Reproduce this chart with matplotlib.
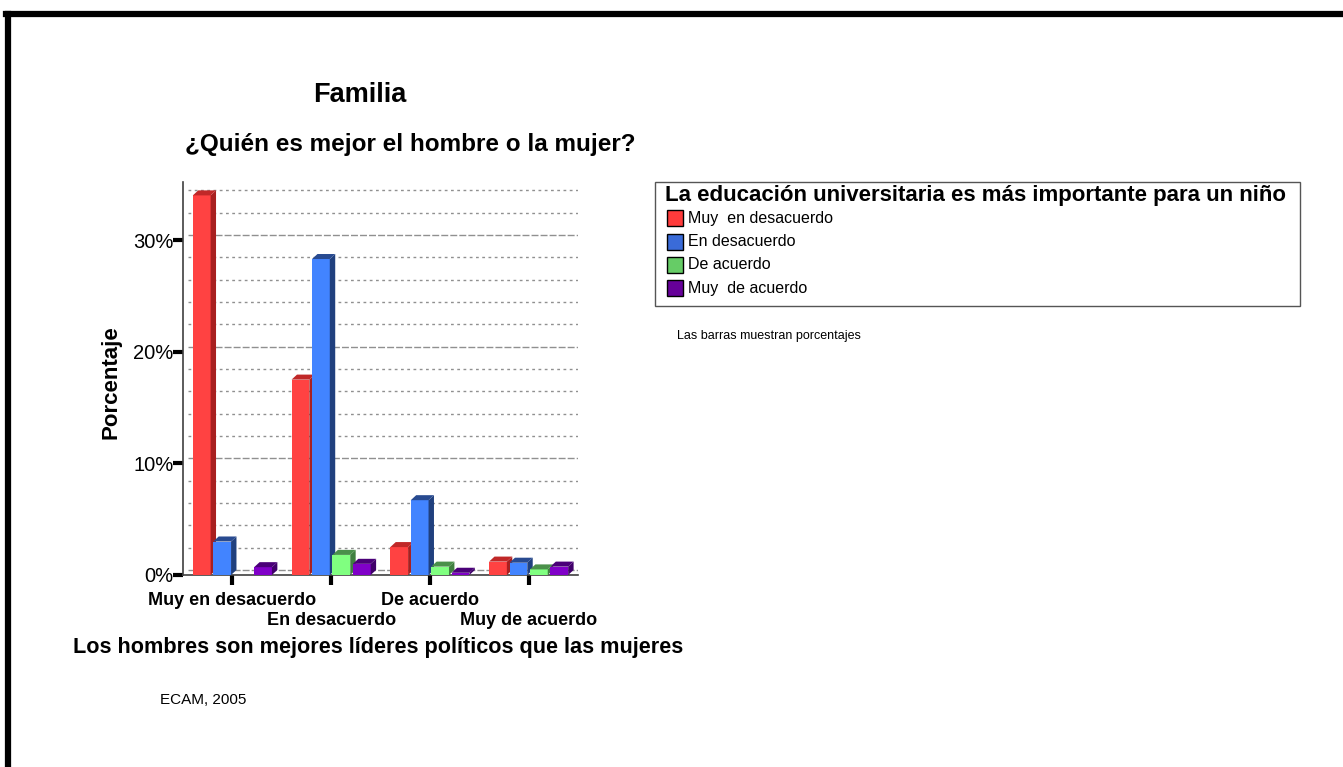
import matplotlib
matplotlib.use('Agg')
import matplotlib.pyplot as plt
from matplotlib.patches import Polygon, Rectangle
from matplotlib.lines import Line2D
import numpy as np

plt.rcParams['font.family'] = ['Liberation Sans', 'DejaVu Sans']

categories = ['Muy en desacuerdo', 'En desacuerdo', 'De acuerdo', 'Muy de acuerdo']
series_names = ['Muy  en desacuerdo', 'En desacuerdo', 'De acuerdo', 'Muy  de acuerdo']
legend_title = 'La educación universitaria es más importante para un niño'

# percentages, one list per legend series (across x categories)
muy_en_desacuerdo = [34.0, 17.5, 2.5, 1.2]
en_desacuerdo = [3.0, 28.3, 6.7, 1.1]
de_acuerdo = [0.0, 1.8, 0.75, 0.5]
muy_de_acuerdo = [0.7, 1.0, 0.2, 0.75]
yticks = [0, 10, 20, 30]
ytick_labels = ['0%', '10%', '20%', '30%']

front = ['#ff4242', '#4284ff', '#80ff80', '#8000c8']
side = ['#a82020', '#20407e', '#408040', '#40006a']
top = ['#c02828', '#284a90', '#4a904a', '#4a0078']
legend_colors = ['#ff3b3b', '#3a6bd8', '#66cc66', '#660099']

W, H = 1343, 767
fig = plt.figure(figsize=(13.43, 7.67), dpi=100)
ax = fig.add_axes([183/W, 1-575/H, 395/W, 393/H])

x = np.arange(len(categories))
width = 0.18
step = 0.207
dx, dy = 0.055, 0.45  # fake 3d depth

# back wall gridlines
for v in np.arange(0, 36, 2):
    if v % 10 == 0:
        ax.plot([-0.5 + dx, 3.5], [v + dy, v + dy], color='#909090', lw=1,
                ls=(0, (5, 1.5)), zorder=1)
    else:
        ax.plot([-0.5 + dx, 3.5], [v + dy, v + dy], color='#909090', lw=1,
                ls=(0, (2, 2.5)), zorder=1)

all_series = [muy_en_desacuerdo, en_desacuerdo, de_acuerdo, muy_de_acuerdo]
for i, vals in enumerate(all_series):
    xs = x + (i - 1.5) * step - width / 2
    for xl, h in zip(xs, vals):
        if h <= 0:
            continue
        ax.bar(xl, h, width=width, align='edge', color=front[i], zorder=3)
        ax.add_patch(Polygon([(xl + width, 0), (xl + width + dx, dy),
                              (xl + width + dx, h + dy), (xl + width, h)],
                             closed=True, facecolor=side[i], edgecolor='none', zorder=3))
        ax.add_patch(Polygon([(xl, h), (xl + dx, h + dy), (xl + width + dx, h + dy),
                              (xl + width, h)],
                             closed=True, facecolor=top[i], edgecolor='none', zorder=3))

ax.set_xlim(-0.5, 3.5)
ax.set_ylim(0, 35.2)
for s in ['top', 'right']:
    ax.spines[s].set_visible(False)
ax.spines['left'].set_color('#404040')
ax.spines['bottom'].set_color('#404040')
ax.spines['left'].set_linewidth(1.2)
ax.spines['bottom'].set_linewidth(1.2)

ax.set_yticks(yticks)
ax.set_yticklabels(ytick_labels, fontsize=14.5)
ax.tick_params(axis='y', length=7, width=3, pad=0)
ax.set_xticks(x)
ax.set_xticklabels([])
ax.tick_params(axis='x', length=7, width=3, pad=2)
for i, c in enumerate(categories):
    ax.text(x[i], -1.5 if i % 2 == 0 else -3.3, c, ha='center', va='top',
            fontsize=13, fontweight='bold')

ax.set_ylabel('Porcentaje', fontsize=16, fontweight='bold')
ax.yaxis.set_label_coords(-0.155, 0.49)

fig.text(360/W, 1-95/H, 'Familia', ha='center', va='center',
         fontsize=19.5, fontweight='bold')
fig.text(410/W, 1-145/H, '¿Quién es mejor el hombre o la mujer?', ha='center',
         va='center', fontsize=17.5, fontweight='bold')
fig.text(378/W, 1-647/H, 'Los hombres son mejores líderes políticos que las mujeres',
         ha='center', va='center', fontsize=15.6, fontweight='bold')
fig.text(160/W, 1-700/H, 'ECAM, 2005', ha='left', va='center', fontsize=11)
fig.text(677/W, 1-336/H, 'Las barras muestran porcentajes', ha='left', va='center',
         fontsize=9)

# legend box drawn by hand to match spacing
fig.add_artist(Rectangle((655/W, 1-306/H), 645/W, 124/H, transform=fig.transFigure,
                         facecolor='white', edgecolor='#555555', lw=1))
fig.text(665/W, 1-196/H, legend_title, ha='left', va='center', fontsize=16,
         fontweight='bold')
row_y = [218, 242, 265, 288]
for c, name, yy in zip(legend_colors, series_names, row_y):
    fig.add_artist(Rectangle((667/W, 1-(yy + 8)/H), 16/W, 16/H, transform=fig.transFigure,
                             facecolor=c, edgecolor='black', lw=1))
    fig.text(688/W, 1-yy/H, name, ha='left', va='center', fontsize=11.5)

# outer frame (only top and left visible)
fig.add_artist(Line2D([8/W, 8/W], [0, 1-14/H], transform=fig.transFigure,
                      color='black', lw=4.5))
fig.add_artist(Line2D([6/W, 1], [1-14/H, 1-14/H], transform=fig.transFigure,
                      color='black', lw=4.5))

fig.savefig('out.png', dpi=100)
